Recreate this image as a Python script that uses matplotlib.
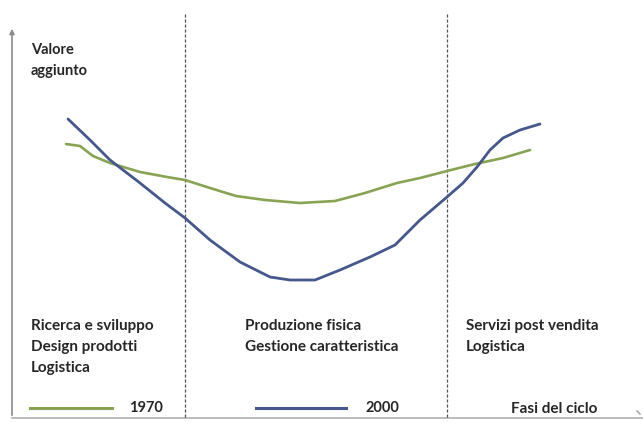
import numpy as np
import matplotlib.pyplot as plt

plt.rcParams['font.family'] = ['Lato', 'DejaVu Sans']

# curve values (x = phase position, y = screen height)
x_1970 = [66, 80, 93, 110, 140, 167, 185, 210, 236, 265, 300, 335, 365, 397, 420, 447, 475, 503, 530]
y_1970 = [144, 146, 156, 163, 172, 177, 180, 188, 196, 200, 203, 201, 193, 183, 178, 171, 164, 158, 150]

x_2000 = [68, 90, 110, 140, 165, 185, 210, 240, 270, 290, 315, 340, 370, 395, 420, 447, 463, 477, 490, 503, 520, 540]
y_2000 = [119, 140, 160, 183, 203, 218, 240, 262, 277, 280, 280, 270, 257, 245, 220, 197, 183, 167, 150, 138, 130, 124]

phase_bounds = [185, 447]
phase_labels = ["Ricerca e sviluppo\nDesign prodotti\nLogistica",
                "Produzione fisica\nGestione caratteristica",
                "Servizi post vendita\nLogistica"]
phase_label_x = [31, 245, 466]

green = '#88a452'
blue = '#45578c'
txt = '#262626'

fig = plt.figure(figsize=(6.43, 4.23), dpi=100)
ax = fig.add_axes([0, 0, 1, 1])
ax.set_xlim(0, 643)
ax.set_ylim(423, 0)
ax.axis('off')

# axes of the diagram
ax.annotate('', xy=(12, 26), xytext=(12, 418),
            arrowprops=dict(arrowstyle='-|>', color='#8a8a8a', lw=1.2, mutation_scale=7))
ax.plot([12, 643], [418, 418], color='#b0b0b0', lw=1.2)
ax.plot([637, 640], [411, 414], color='#9a9a9a', lw=1)

for xb in phase_bounds:
    ax.plot([xb, xb], [14, 418], color='#555555', lw=0.9, ls=(0, (2.5, 1.5)))

ax.plot(x_1970, y_1970, color=green, lw=1.9, solid_capstyle='round')
ax.plot(x_2000, y_2000, color=blue, lw=2.0, solid_capstyle='round')

ax.text(31, 43, "Valore\naggiunto", fontsize=10.5, fontweight='bold', color=txt,
        va='top', ha='left', linespacing=1.6)

for lx, lab in zip(phase_label_x, phase_labels):
    ax.text(lx, 319, lab, fontsize=11, fontweight='bold', color=txt,
            va='top', ha='left', linespacing=1.62)

# legend drawn inside the diagram
ax.plot([30, 112], [408, 408], color=green, lw=2.2)
ax.text(129, 408, "1970", fontsize=10.5, fontweight='bold', color=txt, va='center')
ax.plot([256, 346], [408, 408], color=blue, lw=2.2)
ax.text(366, 408, "2000", fontsize=10.5, fontweight='bold', color=txt, va='center')
ax.text(511, 409, "Fasi del ciclo", fontsize=11, fontweight='bold', color=txt, va='center')

fig.savefig('out.png', dpi=100)
